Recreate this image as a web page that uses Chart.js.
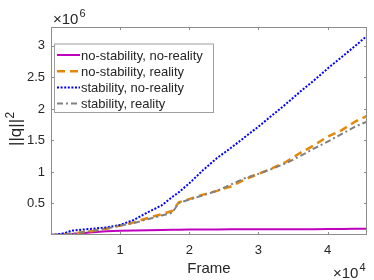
<!DOCTYPE html>
<html>
<head>
<meta charset="utf-8">
<script src="https://cdn.jsdelivr.net/npm/chart.js@4.4.0/dist/chart.umd.min.js"></script>
<style>
  html, body { margin: 0; padding: 0; background: #fff; }
  #wrap { width: 374px; height: 280px; }
</style>
</head>
<body>
<div id="wrap"><canvas id="myChart" width="374" height="280"></canvas></div>
<script>
// frame numbers (x) and ||q||^2 values in units of 1e6
var frames = [0, 1000, 2000, 3000, 4000, 6000, 8000, 10000, 12000, 14000, 16000, 17500, 18500,
  20000, 22000, 24000, 26000, 28000, 30000, 32000, 34000, 36000, 38000, 40000, 42000, 44000, 45700];

var noStabNoReal = [0, 0.003, 0.008, 0.015, 0.025, 0.045, 0.058, 0.066, 0.072, 0.077, 0.08, 0.082, 0.084,
  0.086, 0.088, 0.089, 0.09, 0.09, 0.091, 0.09, 0.092, 0.093, 0.092, 0.094, 0.096, 0.098, 0.1];
var noStabReal = [0, 0.005, 0.01, 0.02, 0.035, 0.065, 0.1, 0.15, 0.2, 0.27, 0.33, 0.38, 0.52,
  0.57, 0.64, 0.7, 0.77, 0.88, 0.97, 1.06, 1.16, 1.3, 1.42, 1.56, 1.66, 1.8, 1.89];
var stabNoReal = [0, 0.01, 0.03, 0.07, 0.08, 0.1, 0.12, 0.16, 0.24, 0.36, 0.47, 0.6, 0.68,
  0.82, 1.03, 1.22, 1.38, 1.55, 1.72, 1.9, 2.08, 2.27, 2.45, 2.64, 2.82, 3.0, 3.16];
var stabReal = [0, 0.005, 0.01, 0.02, 0.035, 0.065, 0.1, 0.15, 0.19, 0.25, 0.31, 0.35, 0.51,
  0.56, 0.63, 0.7, 0.8, 0.9, 0.97, 1.05, 1.14, 1.25, 1.37, 1.48, 1.6, 1.72, 1.8];

var seriesNames = ['no-stability, no-reality', 'no-stability, reality', 'stability, no-reality', 'stability, reality'];

var xTicks = [10000, 20000, 30000, 40000];
var yTicks = [0.5, 1, 1.5, 2, 2.5, 3];

var FONT = '"Liberation Sans", Arial, Helvetica, sans-serif';
var TXT = '#262626';
var AXIS = '#8c8c8c';

function pts(ys){
  return frames.map(function(f, i){ return {x: f, y: ys[i]}; });
}

// box round the axes with inward ticks, like matlab
var boxPlugin = {
  id: 'box',
  afterDatasetsDraw: function(chart){
    var c = chart.ctx, a = chart.chartArea;
    var xs = chart.scales.x, ys = chart.scales.y;
    c.save();
    c.strokeStyle = AXIS;
    c.lineWidth = 1;
    c.strokeRect(a.left + 0.5, a.top + 0.5, a.right - a.left - 1, a.bottom - a.top - 1);
    c.beginPath();
    xTicks.forEach(function(v){
      var px = Math.round(xs.getPixelForValue(v)) + 0.5;
      c.moveTo(px, a.bottom); c.lineTo(px, a.bottom - 3);
      c.moveTo(px, a.top); c.lineTo(px, a.top + 3);
    });
    yTicks.forEach(function(v){
      var py = Math.round(ys.getPixelForValue(v)) + 0.5;
      c.moveTo(a.left, py); c.lineTo(a.left + 3, py);
      c.moveTo(a.right, py); c.lineTo(a.right - 3, py);
    });
    c.stroke();
    c.restore();
  },
  afterDraw: function(chart){
    var c = chart.ctx, a = chart.chartArea;
    c.save();
    c.fillStyle = TXT;
    // axis titles
    c.font = '15px ' + FONT;
    c.textAlign = 'center';
    c.textBaseline = 'alphabetic';
    c.fillText('Frame', (a.left + a.right) / 2, 272.5);

    c.save();
    c.translate(20.5, 127);
    c.rotate(-Math.PI / 2);
    c.textAlign = 'left';
    c.font = '17px ' + FONT;
    var w = c.measureText('||q||').width;
    c.fillText('||q||', -19, 0);
    c.font = '12px ' + FONT;
    c.fillText('2', -19 + w + 0.5, -7);
    c.restore();

    // exponents
    c.textAlign = 'left';
    c.font = '15px ' + FONT;
    var ew = c.measureText('\u00D710').width;
    c.fillText('\u00D710', 53, 23.5);
    c.fillText('\u00D710', 333, 277.5);
    c.font = '11px ' + FONT;
    c.fillText('6', 53 + ew + 1, 16.5);
    c.fillText('4', 333 + ew + 1, 270.5);

    // legend
    var lx = 54, ly = 43.5, lw = 159, lh = 68.5;
    c.fillStyle = '#fff';
    c.fillRect(lx, ly, lw, lh);
    c.strokeStyle = '#a0a0a0';
    c.lineWidth = 1;
    c.strokeRect(lx + 0.5, ly + 0.5, lw, lh);
    c.font = '13px ' + FONT;
    c.textBaseline = 'middle';
    chart.data.datasets.forEach(function(ds, i){
      var y = 55 + i * 16.2;
      c.save();
      c.strokeStyle = ds.borderColor;
      c.lineWidth = ds.borderWidth;
      c.setLineDash(ds.borderDash || []);
      c.beginPath();
      c.moveTo(57, y); c.lineTo(80, y);
      c.stroke();
      c.restore();
      c.fillStyle = TXT;
      c.fillText(ds.label, 81, y + 1);
    });
    c.restore();
  }
};

var ctx = document.getElementById('myChart').getContext('2d');
var chart = new Chart(ctx, {
  type: 'line',
  data: {
    datasets: [{
      label: seriesNames[0],
      data: pts(noStabNoReal),
      borderColor: '#bf00bf',
      borderWidth: 2,
      order: 4
    }, {
      label: seriesNames[1],
      data: pts(noStabReal),
      borderColor: '#e6870a',
      borderWidth: 2.5,
      borderDash: [8, 5],
      order: 3
    }, {
      label: seriesNames[2],
      data: pts(stabNoReal),
      borderColor: '#0000ff',
      borderWidth: 2,
      borderDash: [2, 1.6],
      order: 2
    }, {
      label: seriesNames[3],
      data: pts(stabReal),
      borderColor: '#808080',
      borderWidth: 2,
      borderDash: [6, 3, 2, 3],
      order: 1
    }]
  },
  options: {
    responsive: false,
    animation: false,
    layout: { padding: { left: 0, top: 27, right: 7, bottom: 0 } },
    elements: { point: { radius: 0 }, line: { tension: 0, fill: false } },
    plugins: { legend: { display: false }, tooltip: { enabled: false } },
    scales: {
      x: {
        type: 'linear',
        min: 0,
        max: 45700,
        grid: { display: false, drawTicks: false },
        border: { display: false },
        afterBuildTicks: function(s){ s.ticks = xTicks.map(function(v){ return {value: v}; }); },
        afterFit: function(s){ s.height = 45; },
        ticks: {
          color: TXT,
          font: { family: FONT, size: 13 },
          padding: 8,
          maxRotation: 0,
          callback: function(v){ return v / 10000; }
        }
      },
      y: {
        type: 'linear',
        min: 0,
        max: 3.3,
        grid: { display: false, drawTicks: false },
        border: { display: false },
        afterBuildTicks: function(s){ s.ticks = yTicks.map(function(v){ return {value: v}; }); },
        afterFit: function(s){ s.width = 51; },
        ticks: {
          color: TXT,
          font: { family: FONT, size: 13 },
          padding: 6,
          callback: function(v){ return v; }
        }
      }
    }
  },
  plugins: [boxPlugin]
});
</script>
</body>
</html>
